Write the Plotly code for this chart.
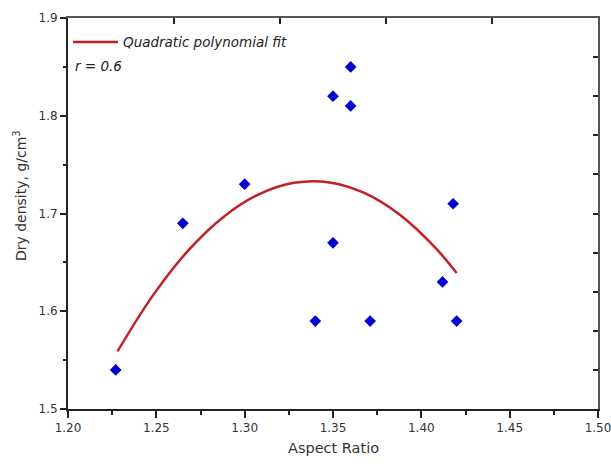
import plotly.graph_objects as go

# Scatter data
aspect_ratio = [1.227, 1.265, 1.300, 1.340, 1.350, 1.350, 1.360, 1.360, 1.371, 1.412, 1.418, 1.420]
dry_density = [1.54, 1.69, 1.73, 1.59, 1.67, 1.82, 1.85, 1.81, 1.59, 1.63, 1.71, 1.59]

# Quadratic polynomial fit curve
fit_x = [1.228, 1.248, 1.268, 1.288, 1.308, 1.328, 1.348, 1.368, 1.388, 1.408, 1.420]
fit_y = [1.559, 1.616, 1.662, 1.6965, 1.7196, 1.7314, 1.7318, 1.7208, 1.6985, 1.6648, 1.6391]

# Tick values
x_range = [1.20, 1.50]
y_range = [1.5, 1.9]
top_ticks = [1.26, 1.32, 1.38, 1.44]
right_ticks = [1.54, 1.58, 1.62, 1.66, 1.70, 1.74, 1.78, 1.82, 1.86]

FONT = "DejaVu Sans"
AXC = "#222222"

fig = go.Figure()
fig.add_trace(go.Scatter(
    x=fit_x, y=fit_y, mode="lines", line=dict(color="#c41f24", width=2.5, shape="spline", smoothing=1.0),
    name="<i>Quadratic polynomial fit</i>", showlegend=True))
fig.add_trace(go.Scatter(
    x=aspect_ratio, y=dry_density, mode="markers",
    marker=dict(symbol="diamond", color="#0000cc", size=9), showlegend=False))
# invisible companion trace so the mirrored (top / right) axes draw their ticks
fig.add_trace(go.Scatter(
    x=aspect_ratio, y=dry_density, mode="markers", xaxis="x2", yaxis="y2",
    marker=dict(opacity=0), hoverinfo="skip", showlegend=False))

fig.update_layout(
    width=611, height=468,
    margin=dict(l=68, r=13, t=18, b=59, autoexpand=False),
    paper_bgcolor="white", plot_bgcolor="white",
    font=dict(family=FONT, size=12, color="#333333"),
    legend=dict(x=0.0, y=0.978, xanchor="left", yanchor="top", bgcolor="rgba(0,0,0,0)",
                font=dict(family=FONT, size=13.5, color="#222222"), itemwidth=45),
    xaxis=dict(range=x_range, dtick=0.05, tickformat=".2f", showgrid=False, zeroline=False,
               showline=True, linecolor=AXC, linewidth=2, ticks="outside", ticklen=7,
               tickwidth=1.5, tickcolor=AXC, ticklabeloverflow="allow", automargin=False,
               minor=dict(dtick=0.025, ticks="outside", ticklen=4, tickcolor=AXC, tickwidth=1.5),
               tickfont=dict(size=12, color="#333333")),
    yaxis=dict(range=y_range, dtick=0.1, tickformat=".1f", showgrid=False, zeroline=False,
               showline=True, linecolor=AXC, linewidth=2, ticks="outside", ticklen=6,
               tickwidth=1.5, tickcolor=AXC, ticklabeloverflow="allow", automargin=False,
               minor=dict(dtick=0.05, ticks="outside", ticklen=3, tickcolor=AXC, tickwidth=1.5),
               tickfont=dict(size=12, color="#333333")),
    xaxis2=dict(overlaying="x", side="top", range=x_range, tickvals=top_ticks, showticklabels=False,
                ticks="inside", ticklen=6, tickwidth=1.5, tickcolor=AXC, showgrid=False,
                zeroline=False, showline=True, linecolor="#555555", linewidth=2, automargin=False),
    yaxis2=dict(overlaying="y", side="right", range=y_range, tickvals=right_ticks, showticklabels=False,
                ticks="inside", ticklen=5, tickwidth=1.5, tickcolor=AXC, showgrid=False,
                zeroline=False, showline=True, linecolor="#555555", linewidth=2, automargin=False),
)

fig.add_annotation(text="<i>r = 0.6</i>", xref="paper", yref="paper", x=0.009, y=0.876,
                   xanchor="left", yanchor="middle", showarrow=False,
                   font=dict(family=FONT, size=13.5, color="#222222"))
fig.add_annotation(text="Aspect Ratio", xref="paper", yref="paper", x=0.5, y=-0.0996,
                   xanchor="center", yanchor="middle", showarrow=False,
                   font=dict(family=FONT, size=14.5, color="#333333"))
fig.add_annotation(text="Dry density, g/cm<sup>3</sup>", xref="paper", yref="paper", x=-0.0906, y=0.547,
                   xanchor="center", yanchor="middle", textangle=-90, showarrow=False,
                   font=dict(family=FONT, size=14, color="#333333"))

fig.write_html("out.html")
